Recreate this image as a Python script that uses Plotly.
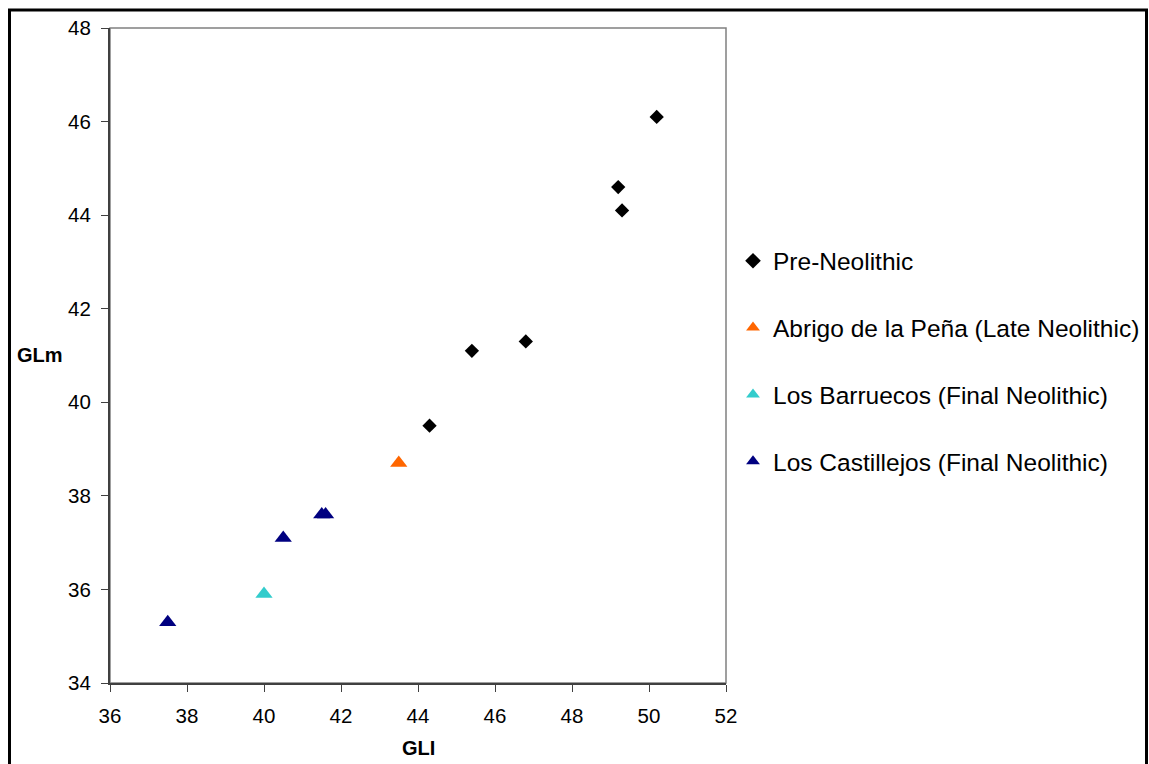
import plotly.graph_objects as go

# Data
pre_x = [50.2, 49.2, 49.3, 46.8, 45.4, 44.3]
pre_y = [46.1, 44.6, 44.1, 41.3, 41.1, 39.5]
abrigo_x = [43.5]
abrigo_y = [38.7]
barr_x = [40.0]
barr_y = [35.9]
cast_x = [37.5, 40.5, 41.5, 41.6]
cast_y = [35.3, 37.1, 37.6, 37.6]

names = ["Pre-Neolithic", "Abrigo de la Peña (Late Neolithic)",
         "Los Barruecos (Final Neolithic)", "Los Castillejos (Final Neolithic)"]
colors = ["#000000", "#FF6600", "#33CCCC", "#000080"]
symbols = ["diamond", "triangle-up", "triangle-up", "triangle-up"]
sizes = [11, 15, 15, 15]
xs = [pre_x, abrigo_x, barr_x, cast_x]
ys = [pre_y, abrigo_y, barr_y, cast_y]

FONT = "Arial, 'Liberation Sans', sans-serif"

fig = go.Figure()
for i in range(4):
    fig.add_trace(go.Scatter(
        x=xs[i], y=ys[i], mode="markers", name=names[i],
        legendgroup=f"g{i}",
        marker=dict(symbol=symbols[i], color=colors[i], size=sizes[i],
                    line=dict(width=0)),
    ))

W, H = 1149, 764
L, R, T, B = 110, 726, 27.5, 683
pw, ph = R - L, B - T

def px2x(px):
    return (px - L) / pw

def py2y(py):
    return (B - py) / ph

fig.update_layout(
    width=W, height=H,
    margin=dict(l=L, r=W - R, t=T, b=H - B, pad=0, autoexpand=False),
    paper_bgcolor="white", plot_bgcolor="white",
    font=dict(family=FONT, color="black", size=20),
    showlegend=True,
    legend=dict(
        x=px2x(733), xanchor="left",
        y=py2y(238), yanchor="top",
        font=dict(size=24.5, family=FONT, color="black"),
        traceorder="grouped", tracegroupgap=32,
        bgcolor="rgba(0,0,0,0)", borderwidth=0,
        itemsizing="constant",
    ),
    xaxis=dict(
        range=[36, 52], dtick=2, tick0=36,
        showgrid=False, zeroline=False,
        showline=True, linecolor="#404040", linewidth=2,
        ticks="outside", ticklen=7, tickwidth=1, tickcolor="#404040",
        tickfont=dict(size=20.5, family=FONT, color="black"),
        ticklabelstandoff=6,
    ),
    yaxis=dict(
        range=[34, 48], dtick=2, tick0=34,
        showgrid=False, zeroline=False,
        showline=True, linecolor="#404040", linewidth=2,
        ticks="outside", ticklen=7, tickwidth=1, tickcolor="#404040",
        tickfont=dict(size=20.5, family=FONT, color="black"),
        ticklabelstandoff=6,
    ),
    shapes=[
        # plot area border (gray)
        dict(type="rect", xref="paper", yref="paper", x0=0, y0=0, x1=1, y1=1,
             line=dict(color="#808080", width=1.5), layer="below"),
        # outer chart border
        dict(type="rect", xref="paper", yref="paper",
             x0=px2x(9.5), x1=px2x(1146.5), y0=py2y(775), y1=py2y(9.5),
             line=dict(color="black", width=3), layer="above"),
    ],
    annotations=[
        dict(text="<b>GLm</b>", xref="paper", yref="paper",
             x=px2x(40), y=py2y(355), xanchor="center", yanchor="middle",
             showarrow=False, font=dict(size=20, family=FONT, color="black")),
        dict(text="<b>GLI</b>", xref="paper", yref="paper",
             x=px2x(418), y=py2y(748), xanchor="center", yanchor="middle",
             showarrow=False, font=dict(size=20, family=FONT, color="black")),
    ],
)

fig.write_html("out.html")
